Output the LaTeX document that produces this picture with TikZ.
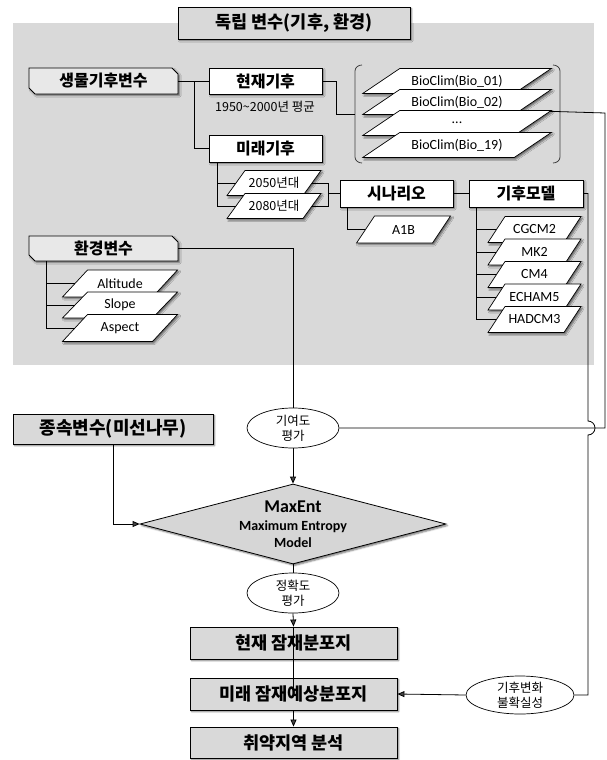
\documentclass[tikz,border=0pt]{standalone}
\usepackage{fontspec}
\setmainfont{Carlito}
\newfontfamily\kr{Noto Sans CJK KR}
\usetikzlibrary{shapes.geometric,shadows,shadows.blur,arrows.meta,calc}
\definecolor{bggray}{RGB}{217,217,217}
\definecolor{boxgray}{RGB}{217,217,217}
\definecolor{chgray}{RGB}{232,232,232}
\definecolor{dgray}{RGB}{214,214,214}

\newcommand\para[7]{% name cx cy w h d text
  \draw[parashape] ({#2-#4/2+#6/2},{#3-#5/2}) -- ++(#4,0) -- ++(-#6,#5) -- ++(-#4,0) -- cycle;
  \node[paratext, minimum width=#4, minimum height=#5] (#1) at (#2,#3) {#7};
}
\newcommand\chamf[6]{% name cx cy w h text
  \draw[chshape] ({#2-#4/2},{#3-#5/2}) -- ++({#4-6},0) -- ++(6,6) -- ++(0,{#5-6}) -- ++({-(#4-6)},0) -- ++(-6,-6) -- cycle;
  \node[chtext, minimum width=#4, minimum height=#5] (#1) at (#2,#3) {#6};
}

\tikzset{
  shd/.style={blur shadow={shadow xshift=1.6pt, shadow yshift=-1.6pt, shadow blur radius=1.6pt, shadow opacity=55}},
  graybox/.style={draw=black, line width=0.9pt, fill=boxgray, shd, inner sep=0pt, font=\kr\bfseries\fontsize{17.5pt}{19pt}\selectfont},
  whitebox/.style={draw=black, line width=0.9pt, fill=white, shd, inner sep=0pt, font=\kr\bfseries\fontsize{16pt}{18pt}\selectfont},
  chshape/.style={draw=black, line width=0.8pt, fill=chgray, shd},
  chtext/.style={inner sep=0pt, font=\kr\bfseries\fontsize{16pt}{18pt}\selectfont},
  parashape/.style={draw=black, line width=0.7pt, fill=white, shd},
  paratext/.style={inner sep=0pt, font=\fontsize{14pt}{16pt}\selectfont},
  note/.style={inner sep=0pt, font=\kr\fontsize{12.5pt}{14pt}\selectfont},
  oval/.style={ellipse, draw=black, line width=0.7pt, fill=white, inner sep=0pt, align=center, font=\kr\fontsize{12.5pt}{15pt}\selectfont},
  conn/.style={line width=0.8pt},
  arr/.style={conn, -{Triangle[length=7pt,width=6pt]}},
  brk/.style={line width=0.8pt, black!75},
}

\begin{document}
\begin{tikzpicture}[x=1pt,y=-1pt]
\useasboundingbox (0,0) rectangle (606,760);
\fill[bggray] (13,23) rectangle (594,365);

\node[graybox, minimum width=232, minimum height=32] (indep) at (294,23) {독립 변수(기후, 환경)};

% bioclimatic
\chamf{bio}{103.5}{81}{149}{26}{생물기후변수}
\node[whitebox, minimum width=113, minimum height=26] (cur) at (265.5,81) {현재기후};
\node[note] (curnote) at (265,107) {1950\textasciitilde2000년 평균};
\node[whitebox, minimum width=113, minimum height=27] (fut) at (265.5,148.5) {미래기후};

\para{b1}{457}{81}{151.5}{25}{37}{BioClim(Bio\_01)}
\para{b2}{457}{102}{151.5}{25}{37}{BioClim(Bio\_02)}
\para{dots}{457}{123}{151.5}{25}{37}{...}
\para{b19}{457}{145}{151.5}{25}{37}{BioClim(Bio\_19)}
\draw[brk] (362,65) to[out=180,in=90] (355,71) -- (355,157) to[out=-90,in=180] (362,163);
\draw[brk] (553,65) to[out=0,in=90] (560,71) -- (560,157) to[out=-90,in=0] (553,163);
\coordinate (brin) at (355,114);

\para{y2050}{274}{183}{76}{25}{18}{\kr\fontsize{12.5pt}{14pt}\selectfont 2050년대}
\para{y2080}{274}{206}{76}{25}{18}{\kr\fontsize{12.5pt}{14pt}\selectfont 2080년대}
\node[whitebox, minimum width=113, minimum height=27] (scen) at (396.5,193.5) {시나리오};
\node[whitebox, minimum width=114, minimum height=27] (gcm) at (526,193.5) {기후모델};
\para{a1b}{403.5}{229.5}{76}{27}{18}{A1B}
\para{m1}{534.5}{229.5}{76}{26}{17}{CGCM2}
\para{m2}{534.5}{252}{76}{26}{17}{MK2}
\para{m3}{534.5}{274.5}{76}{26}{17}{CM4}
\para{m4}{534.5}{297}{76}{26}{17}{ECHAM5}
\para{m5}{534.5}{319.5}{76}{26}{17}{HADCM3}

% environment
\chamf{env}{103.5}{248.5}{149}{25}{환경변수}
\para{alt}{120}{283.5}{90}{27}{25}{Altitude}
\para{slope}{120}{305}{90}{26}{25}{Slope}
\para{asp}{120}{328}{90}{27}{25}{Aspect}

% lower part
\node[oval, minimum width=92, minimum height=40] (contrib) at (293,428) {기여도\\평가};
\node[graybox, minimum width=200, minimum height=30, font=\kr\bfseries\fontsize{18pt}{20pt}\selectfont] (dep) at (113,429) {종속변수(미선나무)};
\node[diamond, draw=black, line width=0.8pt, fill=dgray, shd, aspect=3.825, minimum width=306, minimum height=80, inner sep=0pt, align=center, font=\bfseries\fontsize{14pt}{17pt}\selectfont] (maxent) at (293,524)
  {{\fontsize{18pt}{18pt}\selectfont MaxEnt}\\[1pt]Maximum Entropy\\Model};
\node[oval, minimum width=92, minimum height=40] (acc) at (293,593) {정확도\\평가};
\node[graybox, minimum width=207, minimum height=32] (curmap) at (293.5,643) {현재 잠재분포지};
\node[graybox, minimum width=207, minimum height=32] (futmap) at (293.5,694) {미래 잠재예상분포지};
\node[graybox, minimum width=207, minimum height=31] (vuln) at (293.5,742.5) {취약지역 분석};
\node[oval, minimum width=108, minimum height=38] (unc) at (520,695) {기후변화\\불확실성};

% trunk coordinates
\coordinate (bt) at (194,81);
\coordinate (cb) at (336,81);
\coordinate (ft) at (217,162);
\coordinate (sb) at (328,183);
\coordinate (st) at (347,207);
\coordinate (gt) at (476,207);
\coordinate (et) at (46,261);
\coordinate (rt) at (605,113);
\coordinate (gb) at (588,193.5);
\coordinate (hop) at (588,421);

% connectors
\draw[conn] (bio.east) -- (cur.west);
\draw[conn] (bt) |- (fut.west);
\draw[conn] (cur.east) -- (cb) |- (brin);
\draw[conn] (ft) |- (y2050.west);
\draw[conn] (ft) |- (y2080.west);
\draw[conn] (y2050.east) -- (sb) |- (y2080.east);
\draw[conn] (sb |- scen.west) -- (scen.west);
\draw[conn] (scen.east) -- (gcm.west);
\draw[conn] (st) |- (a1b.west);
\foreach \m in {m1,m2,m3,m4,m5} \draw[conn] (gt) |- (\m.west);
\draw[conn] (et) |- (alt.west);
\draw[conn] (et) |- (slope.west);
\draw[conn] (et) |- (asp.west);
\draw[conn] (env.east) -| (contrib.north);
\draw[conn] ($(dots.north east)+(16,1)$) -- (rt) |- (contrib.east);
\draw[conn] (gcm.east) -- (gb) -- (hop) arc[start angle=90, end angle=-90, radius=7pt] |- (unc.east);
\draw[arr] (dep.south) |- (maxent.west);
\draw[arr] (contrib.south) -- (maxent.north);
\draw[conn] (maxent.south) -- (acc.north);
\draw[arr] (acc.south) -- (curmap.north);
\draw[conn] (curmap.north) -- (futmap.center);
\draw[arr] (futmap.south) -- (vuln.north);
\draw[arr] (unc.west) -- (futmap.east);
\end{tikzpicture}
\end{document}
